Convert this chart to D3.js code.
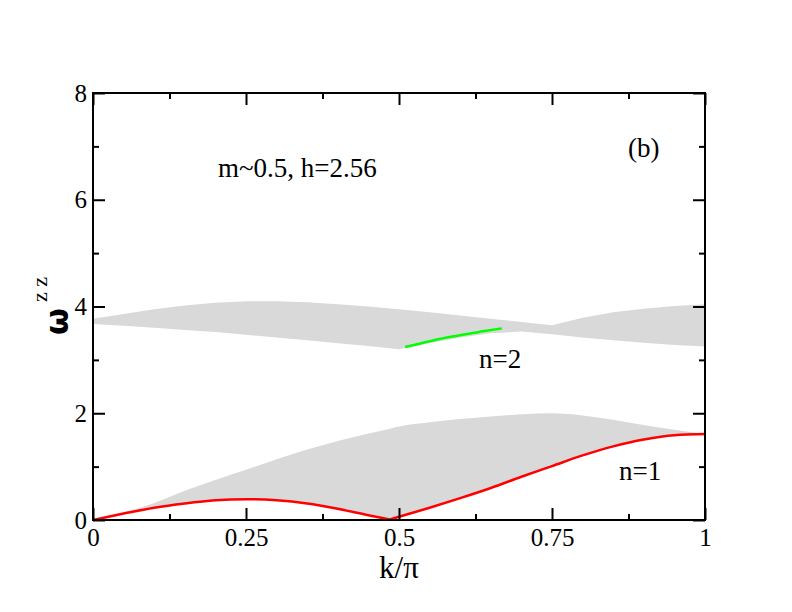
<!DOCTYPE html>
<html>
<head>
  <title>Dynamical structure factor continua</title>
  <script src="https://d3js.org/d3.v7.min.js"></script>
  <style>
    body { margin: 0; background: #fff; }
    svg text { font-family: "Liberation Serif", "Times New Roman", Times, "DejaVu Serif", serif; fill: #000; }
  </style>
</head>
<body>
  <div id="chart"></div>
  <script>
    // n=1 continuum (lower band): k grid, upper edge, lower edge = red curve
    const kLow = [0, 0.05, 0.1, 0.15, 0.2, 0.25, 0.3, 0.35, 0.4, 0.45, 0.485, 0.5, 0.55, 0.6, 0.65, 0.7, 0.75, 0.8, 0.85, 0.9, 0.95, 1];
    const lowTop = [0, 0.14, 0.32, 0.55, 0.75, 0.94, 1.14, 1.32, 1.48, 1.62, 1.71, 1.75, 1.83, 1.89, 1.94, 1.98, 2.0, 1.96, 1.88, 1.78, 1.69, 1.61];
    const redW = [0, 0.12, 0.23, 0.31, 0.37, 0.39, 0.37, 0.31, 0.21, 0.09, 0.01, 0.06, 0.23, 0.41, 0.60, 0.81, 1.01, 1.21, 1.38, 1.51, 1.59, 1.61];

    // n=2 continuum (upper band)
    const kHigh = [0, 0.05, 0.1, 0.15, 0.2, 0.25, 0.3, 0.35, 0.4, 0.45, 0.5, 0.55, 0.6, 0.65, 0.7, 0.75, 0.8, 0.85, 0.9, 0.95, 1];
    const highTop = [3.77, 3.86, 3.95, 4.02, 4.07, 4.10, 4.10, 4.08, 4.04, 4.00, 3.95, 3.89, 3.83, 3.77, 3.71, 3.65, 3.79, 3.89, 3.96, 4.01, 4.04];
    const highBottom = [3.67, 3.64, 3.60, 3.56, 3.52, 3.47, 3.42, 3.37, 3.31, 3.26, 3.20, 3.31, 3.42, 3.50, 3.53, 3.48, 3.42, 3.37, 3.32, 3.28, 3.25];

    // green n=2 branch
    const greenK = [0.51, 0.55, 0.583, 0.6, 0.64, 0.668];
    const greenW = [3.24, 3.35, 3.43, 3.46, 3.54, 3.59];

    const xTicks = [0, 0.25, 0.5, 0.75, 1];
    const xTickLabels = ["0", "0.25", "0.5", "0.75", "1"];
    const xMinor = [0.125, 0.375, 0.625, 0.875];
    const yTicks = [0, 2, 4, 6, 8];
    const yTickLabels = ["0", "2", "4", "6", "8"];
    const yMinor = [1, 3, 5, 7];

    const W = 792, H = 612;
    const plot = {left: 93, right: 705, top: 93, bottom: 520};
    const serif = "'Liberation Serif', 'Times New Roman', Times, 'DejaVu Serif', serif";

    const svg = d3.select("#chart").append("svg")
      .attr("width", W)
      .attr("height", H)
      .attr("font-family", serif);

    svg.append("rect").attr("width", W).attr("height", H).attr("fill", "#fff");

    const x = d3.scaleLinear().domain([0, 1]).range([plot.left, plot.right]);
    const y = d3.scaleLinear().domain([0, 8]).range([plot.bottom, plot.top]);

    const lowData = kLow.map((k, i) => ({k: k, top: lowTop[i], bot: redW[i]}));
    const highData = kHigh.map((k, i) => ({k: k, top: highTop[i], bot: highBottom[i]}));
    const dip = kLow.indexOf(0.485);

    const area = d3.area()
      .x(d => x(d.k))
      .y0(d => y(d.bot))
      .y1(d => y(d.top));

    // gray continua
    svg.append("path")
      .datum(lowData)
      .attr("fill", "#d9d9d9")
      .attr("d", area.curve(d3.curveMonotoneX));
    svg.append("path")
      .datum(highData)
      .attr("fill", "#d9d9d9")
      .attr("d", area.curve(d3.curveLinear));

    const line = d3.line()
      .x(d => x(d.k))
      .y(d => y(d.w))
      .curve(d3.curveMonotoneX);

    // the red edge has a cusp at the dip: draw it in two pieces,
    // clearing everything under it so the gray stops exactly at the line
    const redData = kLow.map((k, i) => ({k: k, w: redW[i]}));
    const under = d3.area()
      .x(d => x(d.k))
      .y0(y(0))
      .y1(d => y(d.w))
      .curve(d3.curveMonotoneX);
    [redData.slice(0, dip + 1), redData.slice(dip)].forEach(seg => {
      svg.append("path")
        .datum(seg)
        .attr("fill", "#fff")
        .attr("d", under);
    });
    [redData.slice(0, dip + 1), redData.slice(dip)].forEach(seg => {
      svg.append("path")
        .datum(seg)
        .attr("fill", "none")
        .attr("stroke", "#ff0000")
        .attr("stroke-width", 2.5)
        .attr("d", line);
    });

    svg.append("path")
      .datum(greenK.map((k, i) => ({k: k, w: greenW[i]})))
      .attr("fill", "none")
      .attr("stroke", "#00ff00")
      .attr("stroke-width", 2.5)
      .attr("d", line);

    // frame
    svg.append("rect")
      .attr("x", plot.left)
      .attr("y", plot.top)
      .attr("width", plot.right - plot.left)
      .attr("height", plot.bottom - plot.top)
      .attr("fill", "none")
      .attr("stroke", "#000")
      .attr("stroke-width", 2);

    function styleAxis(g) {
      g.select(".domain").remove();
      g.attr("font-family", serif).attr("font-size", null);
      g.selectAll(".tick line").attr("stroke", "#000").attr("stroke-width", 2);
      g.selectAll(".tick text").attr("font-size", 25).attr("fill", "#000");
    }

    // major + minor ticks on all four sides, pointing inward
    svg.append("g")
      .attr("transform", `translate(0,${plot.bottom})`)
      .call(d3.axisBottom(x).tickValues(xTicks).tickFormat((d, i) => xTickLabels[i]).tickSize(-12).tickPadding(8))
      .call(styleAxis);
    svg.append("g")
      .attr("transform", `translate(0,${plot.bottom})`)
      .call(d3.axisBottom(x).tickValues(xMinor).tickFormat("").tickSize(-6))
      .call(styleAxis);
    svg.append("g")
      .attr("transform", `translate(0,${plot.top})`)
      .call(d3.axisTop(x).tickValues(xTicks).tickFormat("").tickSize(-12))
      .call(styleAxis);
    svg.append("g")
      .attr("transform", `translate(0,${plot.top})`)
      .call(d3.axisTop(x).tickValues(xMinor).tickFormat("").tickSize(-6))
      .call(styleAxis);

    svg.append("g")
      .attr("transform", `translate(${plot.left},0)`)
      .call(d3.axisLeft(y).tickValues(yTicks).tickFormat((d, i) => yTickLabels[i]).tickSize(-12).tickPadding(6))
      .call(styleAxis);
    svg.append("g")
      .attr("transform", `translate(${plot.left},0)`)
      .call(d3.axisLeft(y).tickValues(yMinor).tickFormat("").tickSize(-6))
      .call(styleAxis);
    svg.append("g")
      .attr("transform", `translate(${plot.right},0)`)
      .call(d3.axisRight(y).tickValues(yTicks).tickFormat("").tickSize(-12))
      .call(styleAxis);
    svg.append("g")
      .attr("transform", `translate(${plot.right},0)`)
      .call(d3.axisRight(y).tickValues(yMinor).tickFormat("").tickSize(-6))
      .call(styleAxis);

    // axis labels
    svg.append("text")
      .attr("x", (plot.left + plot.right) / 2)
      .attr("y", 578)
      .attr("text-anchor", "middle")
      .attr("font-size", 31)
      .text("k/\u03c0");

    const ylab = svg.append("text")
      .attr("transform", "translate(68,335) rotate(-90)");
    ylab.append("tspan").attr("font-size", 31).attr("font-weight", "bold")
      .attr("font-family", "'DejaVu Sans', sans-serif").text("\u03c9");
    ylab.append("tspan").attr("font-size", 22).attr("dx", 6).attr("dy", -21).text("z z");

    // annotations
    svg.append("text").attr("x", 218).attr("y", 177).attr("font-size", 27).text("m~0.5, h=2.56");
    svg.append("text").attr("x", 628).attr("y", 157).attr("font-size", 27).text("(b)");
    svg.append("text").attr("x", 479).attr("y", 368).attr("font-size", 27).text("n=2");
    svg.append("text").attr("x", 619).attr("y", 480).attr("font-size", 27).text("n=1");
  </script>
</body>
</html>
